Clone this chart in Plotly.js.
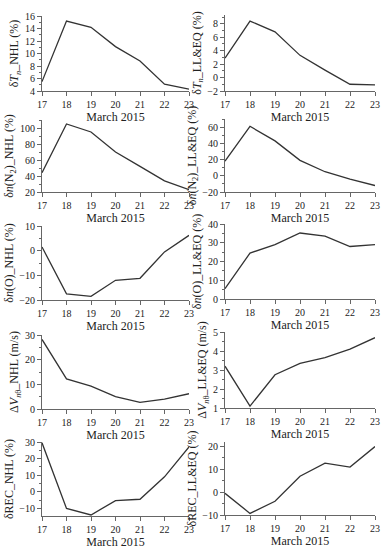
<!DOCTYPE html>
<html><head><meta charset="utf-8">
<script src="https://cdn.plot.ly/plotly-3.0.1.min.js"></script>
<style>html,body{margin:0;padding:0;background:#fff}#c{width:390px;height:550px}</style>
</head><body><div id="c"></div>
<script>
const days = [17, 18, 19, 20, 21, 22, 23];
const xTitle = "March 2015";
const dTn_NHL = [5.5, 15.2, 14.2, 11.1, 8.8, 5.1, 4.3];
const dTn_LLEQ = [2.9, 8.4, 6.8, 3.3, 1.1, -1.0, -1.1];
const dnN2_NHL = [44, 105, 95, 70, 52, 34, 23];
const dnN2_LLEQ = [18, 61, 43, 19, 5, -4, -12];
const dnO_NHL = [1.5, -17.5, -18.5, -12, -11.2, -0.5, 6.2];
const dnO_LLEQ = [5.5, 24.5, 29, 35.2, 33.5, 28, 29];
const dV_NHL = [28.2, 12.2, 9.3, 5.0, 2.7, 4.0, 6.2];
const dV_LLEQ = [3.2, 1.1, 2.75, 3.35, 3.65, 4.1, 4.7];
const dREC_NHL = [29.5, -10, -14, -5.3, -4.5, 9, 27];
const dREC_LLEQ = [-0.5, -9.3, -4, 7, 12.7, 11, 20];

const panels = [
  {y: dTn_NHL, title: "δ<i>T</i><sub><i>n</i></sub>_NHL (%)", range: [4, 16], dtick: 2, ylo: 16, yhi: 91, col: 0},
  {y: dTn_LLEQ, title: "δ<i>T</i><sub><i>n</i></sub>_LL&EQ (%)", range: [-2, 9.3], dtick: 2, ylo: 15, yhi: 91, col: 1},
  {y: dnN2_NHL, title: "δ<i>n</i>(N<sub>2</sub>)_NHL (%)", range: [20, 110], dtick: 20, ylo: 120, yhi: 192, col: 0},
  {y: dnN2_LLEQ, title: "δ<i>n</i>(N<sub>2</sub>)_LL&EQ (%)", range: [-20, 70], dtick: 20, ylo: 119, yhi: 192, col: 1},
  {y: dnO_NHL, title: "δ<i>n</i>(O)_NHL (%)", range: [-20, 10], dtick: 10, ylo: 226, yhi: 300, col: 0},
  {y: dnO_LLEQ, title: "δ<i>n</i>(O)_LL&EQ (%)", range: [0, 40], dtick: 10, ylo: 224, yhi: 299, col: 1},
  {y: dV_NHL, title: "Δ<i>V</i><sub><i>n</i>θ</sub>_NHL (m/s)", range: [0, 30], dtick: 10, ylo: 335, yhi: 409, col: 0},
  {y: dV_LLEQ, title: "Δ<i>V</i><sub><i>n</i>θ</sub>_LL&EQ (m/s)", range: [1, 5], dtick: 1, ylo: 332, yhi: 408, col: 1},
  {y: dREC_NHL, title: "δREC_NHL (%)", range: [-14.6, 30], dtick: 10, ylo: 442, yhi: 516, col: 0},
  {y: dREC_LLEQ, title: "δREC_LL&EQ (%)", range: [-10, 22], dtick: 10, ylo: 442, yhi: 515, col: 1}
];

const W = 390, H = 550;
const xdom = [[42 / W, 189 / W], [225 / W, 375 / W]];
const font = {family: "Liberation Serif, Times New Roman, serif", color: "#222"};
const traces = [];
const layout = {
  width: W, height: H, margin: {l: 0, r: 0, t: 0, b: 0},
  paper_bgcolor: "#fff", plot_bgcolor: "#fff", showlegend: false,
  font: {family: font.family, size: 10, color: "#222"}
};
panels.forEach((p, i) => {
  const n = i + 1;
  const xa = "x" + (n === 1 ? "" : n), ya = "y" + (n === 1 ? "" : n);
  traces.push({x: days, y: p.y, xaxis: xa, yaxis: ya, type: "scatter", mode: "lines",
    line: {color: "#333", width: 1.3}, hoverinfo: "skip"});
  const axStyle = {showline: true, linecolor: "#666", linewidth: 1, showgrid: false, zeroline: false,
    ticks: "outside", ticklen: 4, tickcolor: "#666", tickfont: {family: font.family, size: 10, color: "#222"}};
  layout["xaxis" + (n === 1 ? "" : n)] = Object.assign({}, axStyle, {
    domain: xdom[p.col], anchor: ya, range: [17, 23], dtick: 1, tick0: 17,
    title: {text: xTitle, font: {family: font.family, size: 12, color: "#222"}, standoff: 0}
  });
  layout["yaxis" + (n === 1 ? "" : n)] = Object.assign({}, axStyle, {
    domain: [1 - p.yhi / H, 1 - p.ylo / H], anchor: xa, range: p.range, dtick: p.dtick,
    minor: {ticks: "outside", ticklen: 2, tickcolor: "#666", dtick: p.dtick / 2},
    title: {text: p.title, font: {family: font.family, size: 12, color: "#222"}, standoff: 3}
  });
});
Plotly.newPlot("c", traces, layout, {staticPlot: true});
</script></body></html>
